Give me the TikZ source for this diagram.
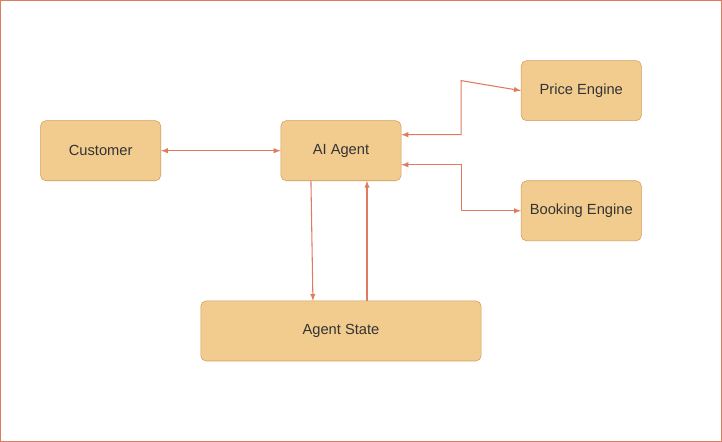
\documentclass[tikz,border=0pt]{standalone}
\usepackage{fontspec}
\setmainfont{Liberation Sans}
\definecolor{boxfill}{HTML}{F2CC8F}
\definecolor{boxdraw}{HTML}{D49A58}
\definecolor{linkcol}{HTML}{E07B5F}
\definecolor{txtcol}{HTML}{333333}
\begin{document}
\begin{tikzpicture}
	[x=0.75pt,y=-0.75pt,
	box/.style={draw=boxdraw,fill=boxfill,rounded corners=4pt,minimum height=45pt,
		font=\fontsize{11}{13}\selectfont,text=txtcol,inner sep=0pt},
	link/.style={linkcol,thick,>=latex}]

	% Frame
	\draw[linkcol,thick] (1,1) rectangle (721,441);

	% Boxes
	\node[box,minimum width=90pt] (customer) at (101,151) {Customer};
	\node[box,minimum width=90pt] (agent) at (341,151) {AI Agent};
	\node[box,minimum width=90pt] (price) at (581,91) {Price Engine};
	\node[box,minimum width=90pt] (booking) at (581,211) {Booking Engine};
	\node[box,minimum width=210pt] (state) at (341,331) {Agent State};

	% Links
	\draw[link,<->] (customer) -- (agent);
	\draw[link,<->] (agent.east |- 0,135) -| (461,81) -- (price.west);
	\draw[link,<->] (agent.east |- 0,165) -| (461,211) -- (booking.west);
	\draw[link,->] (311,181) -- (313,301);
	\draw[link,->] (367,301) -- (367,181);
\end{tikzpicture}
\end{document}
